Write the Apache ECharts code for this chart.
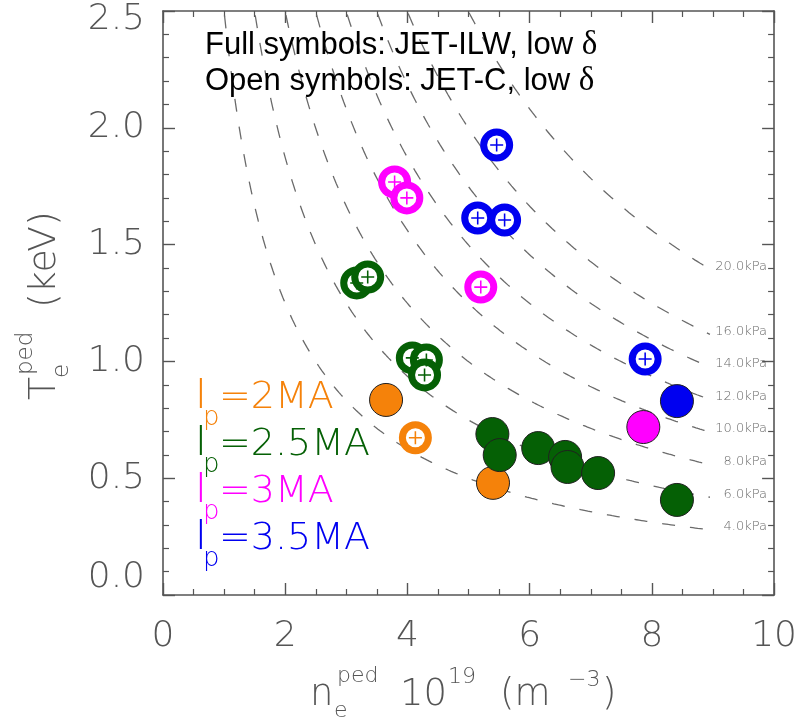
<!DOCTYPE html>
<html>
<head>
<meta charset="utf-8">
<script src="https://cdn.jsdelivr.net/npm/echarts@6/dist/echarts.min.js"></script>
<style>
  html, body { margin: 0; padding: 0; background: #ffffff; }
  #chart { width: 800px; height: 721px; }
</style>
</head>
<body>
<div id="chart"></div>
<script>
// Pedestal electron temperature vs density, JET-ILW (full) and JET-C (open), low triangularity

// isobar levels (kPa); p = 1.602 * n[1e19 m^-3] * T[keV]
const pressureLevels = [4, 6, 8, 10, 12, 14, 16, 20];
const KPA_PER_UNIT = 1.602;
const isobarEndN = 8.95;

// [n_e^ped (1e19 m^-3), T_e^ped (keV)]
const ilw_2MA  = [[3.65, 0.835], [5.40, 0.480]];
const c_2MA    = [[4.13, 0.673]];
const ilw_25MA = [[5.39, 0.689], [5.51, 0.599], [6.14, 0.629], [6.58, 0.591], [6.62, 0.548], [7.12, 0.522], [8.41, 0.407]];
const c_25MA   = [[3.17, 1.336], [3.35, 1.361], [4.08, 1.015], [4.31, 1.006], [4.28, 0.942]];
const ilw_3MA  = [[7.86, 0.719]];
const c_3MA    = [[3.79, 1.768], [3.99, 1.700], [5.20, 1.318]];
const ilw_35MA = [[8.41, 0.830]];
const c_35MA   = [[5.46, 1.926], [5.15, 1.614], [5.59, 1.605], [7.89, 1.010]];

const currentLabels = ['2MA', '2.5MA', '3MA', '3.5MA'];
const colors = { c2: '#f5820a', c25: '#056005', c3: '#ff00ff', c35: '#0000f0' };
const currentColors = [colors.c2, colors.c25, colors.c3, colors.c35];

const HFONT = "'DejaVu Sans'";
const HWEIGHT = 200;
const AXIS_GRAY = '#555555';
const TEXT_GRAY = '#555555';

const chart = echarts.init(document.getElementById('chart'), null, { renderer: 'canvas' });

function isobarPoints(p) {
  const pts = [];
  const nStart = p / (KPA_PER_UNIT * 2.6);
  const steps = 200;
  for (let i = 0; i <= steps; i++) {
    const n = nStart + (isobarEndN - nStart) * i / steps;
    pts.push([n, p / (KPA_PER_UNIT * n)]);
  }
  return pts;
}

const series = [];

pressureLevels.forEach(p => {
  series.push({
    type: 'line',
    data: isobarPoints(p),
    showSymbol: false,
    symbol: 'none',
    silent: true,
    clip: true,
    lineStyle: { color: '#6a6a6a', width: 1.3, type: [13, 15] },
    z: 1
  });
});

// isobar labels at the curve ends
series.push({
  type: 'scatter',
  silent: true,
  symbolSize: 0,
  data: pressureLevels.map(p => [isobarEndN, p / (KPA_PER_UNIT * isobarEndN), p]),
  label: {
    show: true,
    position: 'inside',
    align: 'right',
    verticalAlign: 'middle',
    offset: [57, -3],
    formatter: d => d.value[2].toFixed(1) + 'kPa',
    fontFamily: HFONT,
    fontWeight: HWEIGHT,
    fontSize: 13,
    color: '#444444'
  },
  z: 2
});

const CROSS = 'path://M8.8,0h2.4v20h-2.4zM0,8.8h20v2.4h-20z';

function openSeries(data, color) {
  series.push({
    type: 'scatter', data, symbol: 'circle', symbolSize: 26, silent: true,
    itemStyle: { color: '#ffffff', borderColor: color, borderWidth: 7, opacity: 1 },
    z: 3
  });
  series.push({
    type: 'scatter', data, symbol: CROSS, symbolSize: 13, silent: true,
    itemStyle: { color: color, opacity: 1 },
    z: 4
  });
}
function fullSeries(data, color) {
  series.push({
    type: 'scatter', data, symbol: 'circle', symbolSize: 33, silent: true,
    itemStyle: { color: color, borderColor: '#202020', borderWidth: 1, opacity: 1 },
    z: 3
  });
}

openSeries(c_25MA, colors.c25);
openSeries(c_3MA, colors.c3);
openSeries(c_35MA, colors.c35);
openSeries(c_2MA, colors.c2);
fullSeries(ilw_2MA, colors.c2);
fullSeries(ilw_25MA, colors.c25);
fullSeries(ilw_3MA, colors.c3);
fullSeries(ilw_35MA, colors.c35);

const tickCommon = {
  axisLine: { show: true, onZero: false, lineStyle: { color: AXIS_GRAY, width: 1.6 } },
  axisTick: { show: true, inside: true, length: 12, lineStyle: { color: AXIS_GRAY, width: 1.4 } },
  minorTick: { show: true, length: 6, lineStyle: { color: AXIS_GRAY, width: 1.2 } },
  splitLine: { show: false },
  minorSplitLine: { show: false }
};

const xBase = Object.assign({ type: 'value', min: 0, max: 10, interval: 2 }, tickCommon);
const yBase = Object.assign({ type: 'value', min: 0, max: 2.5, interval: 0.5 }, tickCommon);

const labelFont = { fontFamily: HFONT, fontWeight: HWEIGHT, fontSize: 36, color: TEXT_GRAY };

function hText(x, y, text, size, fill) {
  return { type: 'text', x, y, style: { text, fontFamily: HFONT, fontWeight: HWEIGHT, fontSize: size, fill, verticalAlign: 'middle' } };
}

const option = {
  backgroundColor: '#ffffff',
  animation: false,
  grid: { left: 163, top: 11, width: 612, height: 584, containLabel: false },
  xAxis: [
    Object.assign({}, xBase, {
      position: 'bottom',
      minorTick: Object.assign({}, tickCommon.minorTick, { splitNumber: 4 }),
      axisLabel: Object.assign({ show: true, margin: 24 }, labelFont)
    }),
    Object.assign({}, xBase, {
      position: 'top',
      minorTick: Object.assign({}, tickCommon.minorTick, { splitNumber: 4 }),
      axisLabel: { show: false }
    })
  ],
  yAxis: [
    Object.assign({}, yBase, {
      position: 'left',
      minorTick: Object.assign({}, tickCommon.minorTick, { splitNumber: 5 }),
      axisLabel: Object.assign({
        show: true, margin: 18,
        formatter: v => v === 0 ? '{lo|0.0}' : (v === 2.5 ? '{hi|2.5}' : v.toFixed(1)),
        rich: {
          lo: Object.assign({ padding: [0, 0, 34, 0] }, labelFont),
          hi: Object.assign({ padding: [18, 0, 0, 0] }, labelFont)
        }
      }, labelFont)
    }),
    Object.assign({}, yBase, {
      position: 'right',
      minorTick: Object.assign({}, tickCommon.minorTick, { splitNumber: 5 }),
      axisLabel: { show: false }
    })
  ],
  series: series,
  graphic: [
    // data-set annotation
    {
      type: 'text', left: 205, top: 29, z: 10, silent: true,
      style: {
        text: 'Full symbols: JET-ILW, low {d|δ}',
        font: "31px 'Liberation Sans'", fill: '#000000',
        rich: { d: { fontFamily: 'Liberation Serif', fontSize: 33, fill: '#000000' } }
      }
    },
    {
      type: 'text', left: 205, top: 65, z: 10, silent: true,
      style: {
        text: 'Open symbols: JET-C, low {d|δ}',
        font: "31px 'Liberation Sans'", fill: '#000000',
        rich: { d: { fontFamily: 'Liberation Serif', fontSize: 33, fill: '#000000' } }
      }
    },
    // plasma current key
    ...currentLabels.map((lab, i) => ({
      type: 'group', x: 195, y: 398 + i * 47, z: 10, silent: true,
      children: [
        hText(0, 0, 'I', 40, currentColors[i]),
        hText(8, 20, 'p', 26, currentColors[i]),
        hText(24, 0, '=' + lab, 38, currentColors[i])
      ]
    })),
    // x-axis title
    {
      type: 'group', x: 310, y: 695, silent: true,
      children: [
        hText(0, 0, 'n', 37, TEXT_GRAY),
        hText(24, 16, 'e', 22, TEXT_GRAY),
        hText(27, -19, 'ped', 22, TEXT_GRAY),
        hText(90, 0, '10', 37, TEXT_GRAY),
        hText(138, -18, '19', 22, TEXT_GRAY),
        hText(190, 0, '(m', 37, TEXT_GRAY),
        hText(258, -15, '−3', 22, TEXT_GRAY),
        hText(292, 0, ')', 37, TEXT_GRAY)
      ]
    },
    // y-axis title (reads bottom to top)
    {
      type: 'group', x: 45, y: 400, rotation: Math.PI / 2, silent: true,
      children: [
        hText(0, 0, 'T', 38, TEXT_GRAY),
        hText(22, 17, 'e', 23, TEXT_GRAY),
        hText(25, -19, 'ped', 23, TEXT_GRAY),
        hText(92, 0, '(keV)', 38, TEXT_GRAY)
      ]
    }
  ]
};

chart.setOption(option);
</script>
</body>
</html>
